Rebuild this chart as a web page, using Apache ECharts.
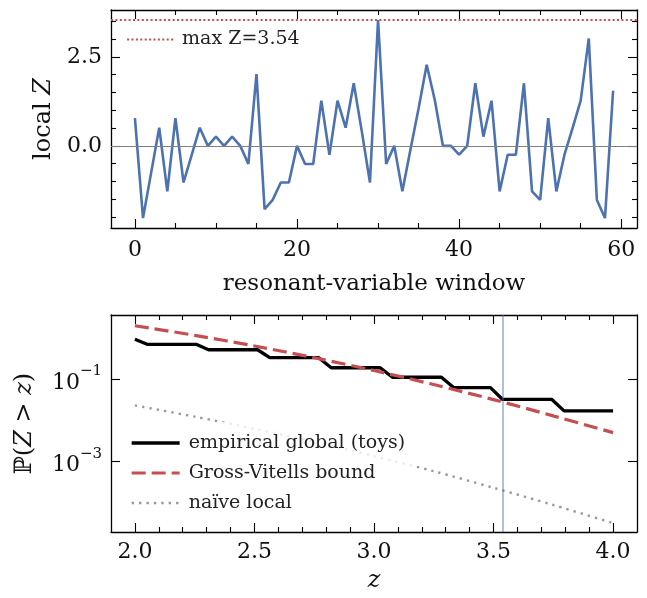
<!DOCTYPE html>
<html>
<head>
<meta charset="utf-8">
<script src="https://cdn.jsdelivr.net/npm/echarts@6/dist/echarts.min.js"></script>
<style>
  html, body { margin: 0; padding: 0; background: #fff; }
  #chart { width: 647px; height: 598px; }
</style>
</head>
<body>
<div id="chart"></div>
<script>
// local significance per resonant-variable window (top panel)
const windowZ = [
  0.78, -2.03, -0.76, 0.51, -1.28, 0.78, -1.03, -0.26, 0.51, 0.0,
  0.26, 0.0, 0.26, 0.0, -0.51, 2.02, -1.78, -1.52, -1.03, -1.03,
  0.0, -0.51, -0.51, 1.27, -0.25, 1.27, 0.51, 1.76, 0.4, -1.03,
  3.54, -0.51, 0.0, -1.28, -0.1, 1.05, 2.28, 1.29, 0.0, 0.0,
  -0.25, 0.0, 1.76, 0.26, 1.27, -1.28, -0.25, -0.25, 1.76, -1.28,
  -1.52, 0.78, -1.28, -0.25, 0.5, 1.27, 3.02, -1.52, -2.03, 1.55
]

// empirical global p-value from toys (step vertices)
const toyZ = [2.0, 2.051, 2.256, 2.308, 2.513, 2.564, 2.769, 2.821, 3.026, 3.077,
  3.282, 3.333, 3.487, 3.538, 3.744, 3.795, 4.0]
const toyP = [0.912, 0.69, 0.69, 0.51, 0.51, 0.327, 0.327, 0.187, 0.187, 0.11,
  0.11, 0.0617, 0.0617, 0.0318, 0.0318, 0.0168, 0.0168]

// Gross-Vitells bound and naive local p-value
const curveZ = [2.0, 2.25, 2.5, 2.75, 3.0, 3.25, 3.5, 3.75, 4.0]
const gvP = [1.95, 1.14, 0.63, 0.327, 0.16, 0.0731, 0.0315, 0.0127, 0.005]
const localP = [0.0228, 0.0122, 0.0062, 0.003, 0.00135, 0.00058, 0.00023, 0.000088, 0.000032]

// ticks
const topXMajor = [0, 20, 40, 60]
const topXMinor = [5, 10, 15, 25, 30, 35, 45, 50, 55]
const topYMajor = [0, 2.5]
const topYMinor = [-2, -1.5, -1, -0.5, 0.5, 1, 1.5, 2, 3, 3.5]
const botXMajor = [2.0, 2.5, 3.0, 3.5, 4.0]
const botXMinor = [2.1, 2.2, 2.3, 2.4, 2.6, 2.7, 2.8, 2.9, 3.1, 3.2, 3.3, 3.4, 3.6, 3.7, 3.8, 3.9]
const botYMajor = [1e-1, 1e-3]

const maxZ = Math.max(...windowZ)

const serif = 'DejaVu Serif'
const blue = '#4c72b0'
const red = '#c44e52'

const chart = echarts.init(document.getElementById('chart'))

// one axis of the box frame: line + inward ticks
function frameAxis(gridIndex, type, position, min, max, ticks, len, showLine) {
  return {
    gridIndex: gridIndex,
    type: type,
    position: position,
    min: min,
    max: max,
    axisLine: { show: showLine, onZero: false, lineStyle: { color: '#000', width: 1.3 } },
    axisTick: { show: true, inside: true, length: len, customValues: ticks, lineStyle: { color: '#000', width: 1.1 } },
    axisLabel: { show: false },
    splitLine: { show: false }
  }
}

const labelStyle = { fontFamily: serif, fontSize: 22, color: '#111' }

// top panel axes
const topX = frameAxis(0, 'value', 'bottom', -2.95, 61.95, topXMajor, 9, true)
topX.axisLabel = Object.assign({ show: true, margin: 11, customValues: topXMajor }, labelStyle)
topX.name = 'resonant-variable window'
topX.nameLocation = 'middle'
topX.nameGap = 45
topX.nameTextStyle = { fontFamily: serif, fontSize: 23, color: '#111' }

const topY = frameAxis(0, 'value', 'left', -2.31, 3.82, topYMajor, 9, true)
topY.axisLabel = Object.assign({ show: true, margin: 9, customValues: topYMajor, formatter: v => v.toFixed(1) }, labelStyle)
topY.name = '{n|local }{i|Z}'
topY.nameLocation = 'middle'
topY.nameGap = 54
topY.nameTextStyle = {
  rich: {
    n: { fontFamily: serif, fontSize: 24, color: '#111' },
    i: { fontFamily: serif, fontSize: 24, fontStyle: 'italic', color: '#111' }
  }
}

// bottom panel axes
const yMin = Math.pow(10, -4.71)
const yMax = Math.pow(10, 0.55)

const botX = frameAxis(1, 'value', 'bottom', 1.9, 4.1, botXMajor, 9, true)
botX.axisLabel = Object.assign({ show: true, margin: 9, customValues: botXMajor, formatter: v => v.toFixed(1) }, labelStyle)
botX.name = 'z'
botX.nameLocation = 'middle'
botX.nameGap = 37
botX.nameTextStyle = { fontFamily: serif, fontSize: 24, fontStyle: 'italic', color: '#111' }

const botY = frameAxis(1, 'log', 'left', yMin, yMax, botYMajor, 9, true)
botY.logBase = 10
botY.axisLabel = {
  show: true,
  margin: 9,
  customValues: botYMajor,
  formatter: v => '{b|10}{s|−' + Math.round(-Math.log10(v)) + '}',
  rich: {
    b: { fontFamily: serif, fontSize: 22, color: '#111', lineHeight: 30, verticalAlign: 'bottom' },
    s: { fontFamily: serif, fontSize: 15, color: '#111', lineHeight: 15, verticalAlign: 'top' }
  }
}
botY.name = '{n|ℙ(}{i|Z}{n| > }{i|z}{n|)}'
botY.nameLocation = 'middle'
botY.nameGap = 74
botY.nameTextStyle = {
  rich: {
    n: { fontFamily: serif, fontSize: 24, color: '#111' },
    i: { fontFamily: serif, fontSize: 24, fontStyle: 'italic', color: '#111' }
  }
}
const botYRight = frameAxis(1, 'log', 'right', yMin, yMax, botYMajor, 9, true)
botYRight.logBase = 10

const noLabel = { show: false }
const lineMark = (style, data) => ({
  silent: true,
  symbol: ['none', 'none'],
  label: noLabel,
  emphasis: { disabled: true },
  lineStyle: style,
  data: data
})

// legend: line sample only (series width), no marker
const legendText = { fontFamily: serif, fontSize: 19, color: '#222', padding: [0, 0, 0, 4] }
const hiddenMarker = { opacity: 0 }
const legendLine = { width: 'inherit', type: 'inherit' }

const option = {
  animation: false,
  backgroundColor: '#fff',
  grid: [
    { left: 111, top: 10, width: 526, height: 218 },
    { left: 111, top: 315, width: 526, height: 217 }
  ],
  xAxis: [
    topX,
    frameAxis(0, 'value', 'bottom', -2.95, 61.95, topXMinor, 5, false),
    frameAxis(0, 'value', 'top', -2.95, 61.95, topXMajor, 9, true),
    frameAxis(0, 'value', 'top', -2.95, 61.95, topXMinor, 5, false),
    botX,
    frameAxis(1, 'value', 'bottom', 1.9, 4.1, botXMinor, 5, false),
    frameAxis(1, 'value', 'top', 1.9, 4.1, botXMajor, 9, true),
    frameAxis(1, 'value', 'top', 1.9, 4.1, botXMinor, 5, false)
  ],
  yAxis: [
    topY,
    frameAxis(0, 'value', 'left', -2.31, 3.82, topYMinor, 5, false),
    frameAxis(0, 'value', 'right', -2.31, 3.82, topYMajor, 9, true),
    frameAxis(0, 'value', 'right', -2.31, 3.82, topYMinor, 5, false),
    botY,
    botYRight
  ],
  legend: [
    {
      data: ['max Z=' + maxZ.toFixed(2)],
      left: 126,
      top: 30,
      padding: 0,
      itemWidth: 46,
      itemHeight: 20,
      itemStyle: hiddenMarker,
      lineStyle: legendLine,
      textStyle: legendText
    },
    {
      data: ['empirical global (toys)', 'Gross-Vitells bound', 'naïve local'],
      orient: 'vertical',
      left: 120,
      top: 422,
      padding: [11, 10, 8, 10],
      itemGap: 10,
      itemWidth: 48,
      itemHeight: 20,
      itemStyle: hiddenMarker,
      lineStyle: legendLine,
      backgroundColor: 'rgba(255,255,255,0.8)',
      textStyle: Object.assign({ lineHeight: 20 }, legendText)
    }
  ],
  series: [
    {
      name: 'local Z',
      type: 'line',
      xAxisIndex: 0,
      yAxisIndex: 0,
      symbol: 'none',
      data: windowZ.map((v, i) => [i, v]),
      lineStyle: { color: blue, width: 2.6 },
      itemStyle: { color: blue },
      z: 3,
      markLine: lineMark({ color: '#808080', width: 1.2, type: 'solid' }, [{ yAxis: 0 }])
    },
    {
      name: 'max Z=' + maxZ.toFixed(2),
      type: 'line',
      xAxisIndex: 0,
      yAxisIndex: 0,
      symbol: 'none',
      data: [],
      lineStyle: { color: red, width: 2.2, type: [2, 2.4] },
      itemStyle: { color: red },
      markLine: lineMark({ color: red, width: 2.2, type: [2, 2.4] }, [{ yAxis: maxZ }])
    },
    {
      name: 'empirical global (toys)',
      type: 'line',
      xAxisIndex: 4,
      yAxisIndex: 4,
      symbol: 'none',
      data: toyZ.map((z, i) => [z, toyP[i]]),
      lineStyle: { color: '#000', width: 3.3 },
      itemStyle: { color: '#000' },
      z: 3
    },
    {
      name: 'Gross-Vitells bound',
      type: 'line',
      xAxisIndex: 4,
      yAxisIndex: 4,
      symbol: 'none',
      smooth: 0.3,
      data: curveZ.map((z, i) => [z, gvP[i]]),
      lineStyle: { color: red, width: 3.2, type: [14, 6] },
      itemStyle: { color: red },
      z: 3
    },
    {
      name: 'naïve local',
      type: 'line',
      xAxisIndex: 4,
      yAxisIndex: 4,
      symbol: 'none',
      smooth: 0.3,
      data: curveZ.map((z, i) => [z, localP[i]]),
      lineStyle: { color: '#999', width: 2.4, type: [2.4, 5] },
      itemStyle: { color: '#999' },
      z: 2
    },
    {
      name: 'observed max',
      type: 'line',
      xAxisIndex: 4,
      yAxisIndex: 4,
      symbol: 'none',
      data: [],
      markLine: lineMark({ color: 'rgba(76,114,176,0.6)', width: 1.5, type: 'solid' }, [{ xAxis: maxZ }])
    }
  ]
}

chart.setOption(option)
</script>
</body>
</html>
